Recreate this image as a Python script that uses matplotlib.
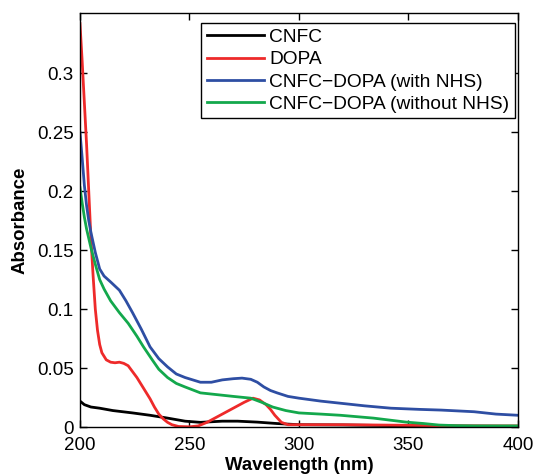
import matplotlib
matplotlib.use("Agg")
import matplotlib.pyplot as plt

plt.rcParams['font.family'] = ['Liberation Sans', 'DejaVu Sans']

# Data
cnfc_x = [200, 202, 205, 209, 215, 224, 232, 240, 248, 255, 265, 272, 281, 290, 300, 320, 350, 375, 400]
cnfc_y = [0.022, 0.019, 0.017, 0.016, 0.014, 0.012, 0.010, 0.0076, 0.005, 0.004, 0.005, 0.005, 0.0042, 0.003, 0.002, 0.0018, 0.001, 0.0008, 0.0005]

dopa_x = [200, 201, 202, 203, 204, 205, 206, 207, 208, 209, 210, 212, 214, 216, 218, 220, 222, 224, 226, 228, 230, 232,
          234, 236, 238, 240, 242, 245, 250, 254, 258, 262, 266, 270, 275, 279, 282, 285, 287, 289, 292, 295, 300,
          320, 350, 375, 400]
dopa_y = [0.342, 0.31, 0.275, 0.24, 0.20, 0.16, 0.128, 0.10, 0.082, 0.070, 0.063, 0.057, 0.055, 0.0545, 0.055, 0.054, 0.052,
          0.047, 0.042, 0.036, 0.030, 0.024, 0.017, 0.011, 0.007, 0.004, 0.002, 0.0005, 0.0002, 0.001, 0.004, 0.008, 0.012,
          0.016, 0.021, 0.0245, 0.023, 0.019, 0.015, 0.010, 0.004, 0.002, 0.002, 0.002, 0.0015, 0.001, 0.001]

nhs_x = [200, 201, 202, 203, 204, 205, 207, 209, 211, 214, 218, 221, 224, 228, 232, 236, 240, 244, 248, 255, 260, 265,
         270, 274, 278, 281, 284, 287, 290, 295, 300, 310, 320, 330, 342, 355, 365, 380, 390, 400]
nhs_y = [0.25, 0.228, 0.205, 0.188, 0.175, 0.165, 0.148, 0.134, 0.128, 0.123, 0.116, 0.107, 0.097, 0.083, 0.068, 0.058, 0.051,
         0.045, 0.042, 0.038, 0.038, 0.040, 0.041, 0.0415, 0.0405, 0.038, 0.034, 0.031, 0.029, 0.026, 0.0245, 0.022, 0.020,
         0.018, 0.016, 0.015, 0.0144, 0.013, 0.011, 0.010]

wo_x = [200, 201, 202, 203, 204, 205, 207, 209, 211, 214, 218, 222, 226, 229, 233, 236, 240, 244, 248, 255, 260, 265,
        270, 278, 283, 288, 294, 300, 310, 319, 334, 349, 357, 364, 372, 380, 390, 400]
wo_y = [0.203, 0.19, 0.178, 0.168, 0.16, 0.152, 0.138, 0.125, 0.117, 0.107, 0.097, 0.088, 0.077, 0.068, 0.057, 0.049, 0.042,
        0.037, 0.034, 0.029, 0.028, 0.027, 0.026, 0.0245, 0.021, 0.017, 0.014, 0.012, 0.011, 0.010, 0.0076, 0.0042, 0.003,
        0.0017, 0.0012, 0.001, 0.001, 0.001]

labels = ['CNFC', 'DOPA', 'CNFC\u2212DOPA (with NHS)', 'CNFC\u2212DOPA (without NHS)']
colors = ['#000000', '#ee2a2a', '#2e4ea3', '#13a84c']

fig = plt.figure(figsize=(5.35, 4.74), dpi=100)
ax = fig.add_axes([0.1495, 0.099, 0.8185, 0.8736])

for xs, ys, lab, c in zip([cnfc_x, dopa_x, nhs_x, wo_x], [cnfc_y, dopa_y, nhs_y, wo_y], labels, colors):
    ax.plot(xs, ys, color=c, lw=2.0, label=lab)

ax.set_xlim(200, 400)
ax.set_ylim(0, 0.351)
ax.set_xticks([200, 250, 300, 350, 400])
ax.set_yticks([0, 0.05, 0.1, 0.15, 0.2, 0.25, 0.3])
ax.set_yticklabels(['0', '0.05', '0.1', '0.15', '0.2', '0.25', '0.3'])
ax.tick_params(direction='in', top=True, right=True, length=5, width=1, labelsize=13.5)
ax.tick_params(axis='x', pad=7.5)
ax.tick_params(axis='y', pad=4.5)
for s in ax.spines.values():
    s.set_linewidth(1.0)

ax.set_xlabel('Wavelength (nm)', fontsize=13.4, fontweight='bold', labelpad=2)
ax.set_ylabel('Absorbance', fontsize=13.4, fontweight='bold', labelpad=6)

leg = ax.legend(loc='upper right', bbox_to_anchor=(0.993, 0.976), fontsize=13.8, frameon=True, fancybox=False,
                handlelength=3.0, borderaxespad=0.0, labelspacing=0.25, handletextpad=0.25, borderpad=0.3)
leg.get_frame().set_edgecolor('black')
leg.get_frame().set_linewidth(1.0)
leg.get_frame().set_alpha(1)

fig.savefig('out.png', dpi=100)
